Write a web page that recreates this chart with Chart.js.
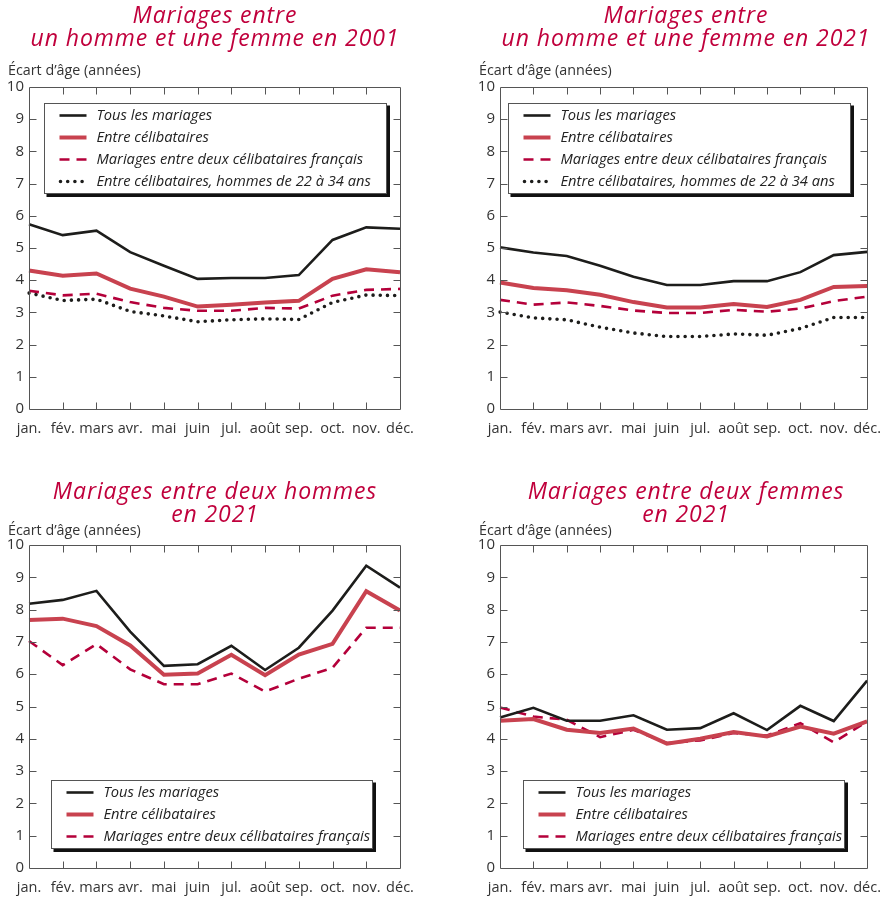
<!DOCTYPE html>
<html lang="fr">
<head>
<meta charset="utf-8">
<title>Écart d'âge entre époux selon le mois du mariage</title>
<script src="https://cdn.jsdelivr.net/npm/chart.js@4.4.1/dist/chart.umd.min.js"></script>
<style>
  body { margin: 0; background: #fff; font-family: "Open Sans", sans-serif; }
  #page { position: relative; width: 892px; height: 897px; overflow: hidden; }
  .panel { position: absolute; width: 446px; }
  .panel canvas { position: absolute; left: 0; top: 0; }
  .title {
    position: absolute; color: #c0003c; font-style: italic; font-size: 23px;
    letter-spacing: 0.9px; line-height: 23px; text-align: center; width: 420px; white-space: nowrap;
  }
  .ylabel { position: absolute; font-size: 14.3px; color: #333; white-space: nowrap; }
</style>
</head>
<body>
<div id="page">
  <div class="panel" style="left:0;top:0;height:448px">
    <canvas id="c2001" width="446" height="448"></canvas>
    <div class="title" style="left:5px;top:3px">Mariages entre<br>un homme et une femme en 2001</div>
    <div class="ylabel" style="left:8px;top:60px">Écart d’âge (années)</div>
  </div>
  <div class="panel" style="left:446px;top:0;height:448px">
    <canvas id="c2021" width="446" height="448"></canvas>
    <div class="title" style="left:30px;top:3px">Mariages entre<br>un homme et une femme en 2021</div>
    <div class="ylabel" style="left:33px;top:60px">Écart d’âge (années)</div>
  </div>
  <div class="panel" style="left:0;top:448px;height:449px">
    <canvas id="cHommes" width="446" height="449"></canvas>
    <div class="title" style="left:5px;top:31px">Mariages entre deux hommes<br>en 2021</div>
    <div class="ylabel" style="left:8px;top:72px">Écart d’âge (années)</div>
  </div>
  <div class="panel" style="left:446px;top:448px;height:449px">
    <canvas id="cFemmes" width="446" height="449"></canvas>
    <div class="title" style="left:30px;top:31px">Mariages entre deux femmes<br>en 2021</div>
    <div class="ylabel" style="left:33px;top:72px">Écart d’âge (années)</div>
  </div>
</div>

<script>
/* ===== DATA ===== */
const months = ["jan.", "fév.", "mars", "avr.", "mai", "juin", "jul.", "août", "sep.", "oct.", "nov.", "déc."];

const seriesLabels = [
  "Tous les mariages",
  "Entre célibataires",
  "Mariages entre deux célibataires français",
  "Entre célibataires, hommes de 22 à 34 ans"
];

// homme-femme 2001
const tous2001     = [5.74, 5.40, 5.54, 4.87, 4.45, 4.04, 4.07, 4.07, 4.16, 5.25, 5.64, 5.60];
const celib2001    = [4.30, 4.14, 4.21, 3.74, 3.49, 3.18, 3.24, 3.31, 3.36, 4.04, 4.34, 4.25];
const francais2001 = [3.67, 3.53, 3.58, 3.32, 3.14, 3.05, 3.05, 3.14, 3.12, 3.52, 3.70, 3.73];
const jeunes2001   = [3.60, 3.37, 3.41, 3.03, 2.89, 2.71, 2.77, 2.80, 2.78, 3.31, 3.54, 3.52];

// homme-femme 2021
const tous2021     = [5.02, 4.86, 4.75, 4.45, 4.11, 3.85, 3.85, 3.97, 3.97, 4.25, 4.78, 4.88];
const celib2021    = [3.93, 3.76, 3.69, 3.55, 3.32, 3.15, 3.15, 3.26, 3.17, 3.39, 3.79, 3.82];
const francais2021 = [3.39, 3.24, 3.31, 3.20, 3.06, 2.98, 2.98, 3.08, 3.02, 3.12, 3.35, 3.49];
const jeunes2021   = [3.01, 2.83, 2.77, 2.54, 2.36, 2.25, 2.25, 2.33, 2.29, 2.50, 2.84, 2.84];

// deux hommes 2021
const tousHommes     = [8.18, 8.30, 8.58, 7.32, 6.26, 6.31, 6.88, 6.13, 6.82, 7.97, 9.36, 8.68];
const celibHommes    = [7.68, 7.72, 7.49, 6.89, 5.98, 6.02, 6.60, 5.97, 6.61, 6.94, 8.57, 7.97];
const francaisHommes = [7.03, 6.28, 6.93, 6.15, 5.69, 5.69, 6.02, 5.46, 5.86, 6.20, 7.44, 7.44];

// deux femmes 2021
const tousFemmes     = [4.66, 4.96, 4.56, 4.56, 4.73, 4.28, 4.33, 4.79, 4.27, 5.02, 4.55, 5.80];
const celibFemmes    = [4.56, 4.61, 4.28, 4.18, 4.32, 3.85, 4.00, 4.21, 4.07, 4.38, 4.16, 4.54];
const francaisFemmes = [4.97, 4.69, 4.59, 4.05, 4.28, 3.87, 3.95, 4.18, 4.10, 4.48, 3.89, 4.54];

/* ===== STYLES ===== */
const seriesStyles = [
  { borderColor: "#1d1d1b", borderWidth: 2.6, borderDash: [] },
  { borderColor: "#c8424f", borderWidth: 4, borderDash: [] },
  { borderColor: "#b4003a", borderWidth: 2.6, borderDash: [10, 7] },
  { borderColor: "#1d1d1b", borderWidth: 3.6, borderDash: [0, 7.2], borderCapStyle: "round" }
];

function makeDatasets(seriesList) {
  return seriesList.map((values, i) => Object.assign({
    label: seriesLabels[i],
    data: values,
    pointRadius: 0,
    pointHoverRadius: 0,
    tension: 0,
    fill: false,
    borderCapStyle: "butt",
    borderJoinStyle: "miter"
  }, seriesStyles[i]));
}

/* ===== FRAME WITH INWARD TICKS ===== */
const framePlugin = {
  id: "frame",
  afterDatasetsDraw(chart) {
    const { ctx, chartArea: a, scales } = chart;
    const tick = 7;
    ctx.save();
    ctx.strokeStyle = "#555";
    ctx.lineWidth = 1;
    ctx.setLineDash([]);
    ctx.beginPath();
    const l = Math.round(a.left) + 0.5, r = Math.round(a.right) + 0.5;
    const t = Math.round(a.top) + 0.5, b = Math.round(a.bottom) + 0.5;
    ctx.rect(l, t, r - l, b - t);
    const nx = scales.x.ticks.length;
    for (let i = 1; i < nx - 1; i++) {
      const x = Math.round(scales.x.getPixelForTick(i)) + 0.5;
      ctx.moveTo(x, b); ctx.lineTo(x, b - tick);
      ctx.moveTo(x, t); ctx.lineTo(x, t + tick);
    }
    scales.y.ticks.forEach(tk => {
      if (tk.value <= scales.y.min || tk.value >= scales.y.max) return;
      const y = Math.round(scales.y.getPixelForValue(tk.value)) + 0.5;
      ctx.moveTo(l, y); ctx.lineTo(l + tick, y);
      ctx.moveTo(r, y); ctx.lineTo(r - tick, y);
    });
    ctx.stroke();
    ctx.restore();
  }
};

/* ===== LEGEND BOX ===== */
const legendBoxPlugin = {
  id: "legendBox",
  afterDraw(chart, args, opts) {
    const { ctx, chartArea: a } = chart;
    const sets = chart.data.datasets;
    const rowH = 22, pad = 12;
    const x = Math.round(a.left + opts.x) + 0.5;
    const y = Math.round(a.top + opts.y) + 0.5;
    const w = opts.width;
    const h = pad * 2 + (sets.length - 1) * rowH;
    ctx.save();
    // shadow
    ctx.fillStyle = "#111";
    ctx.fillRect(x + 2, y + 2, w + 1.5, h + 1.5);
    ctx.fillStyle = "#fff";
    ctx.fillRect(x, y, w, h);
    ctx.strokeStyle = "#555";
    ctx.lineWidth = 1;
    ctx.strokeRect(x, y, w, h);

    ctx.font = "italic 14.7px 'Open Sans'";
    ctx.textBaseline = "middle";
    sets.forEach((ds, i) => {
      const ry = y + pad + i * rowH;
      ctx.beginPath();
      ctx.strokeStyle = ds.borderColor;
      ctx.lineWidth = ds.borderWidth;
      ctx.setLineDash(ds.borderDash || []);
      ctx.lineCap = ds.borderCapStyle || "butt";
      const x0 = ds.borderCapStyle === "round" ? x + 16 : x + 15;
      ctx.moveTo(x0, ry);
      ctx.lineTo(x + 42, ry);
      ctx.stroke();
      ctx.setLineDash([]);
      ctx.fillStyle = "#222";
      ctx.fillText(ds.label, x + 52, ry);
    });
    ctx.restore();
  }
};

/* ===== CHART FACTORY ===== */
function makeChart(id, seriesList, area, legendPos) {
  new Chart(document.getElementById(id), {
    type: "line",
    data: { labels: months, datasets: makeDatasets(seriesList) },
    options: {
      responsive: false,
      animation: false,
      devicePixelRatio: 1,
      layout: { padding: { top: area.top, right: area.right, left: 0, bottom: 0 } },
      plugins: {
        legend: { display: false },
        tooltip: { enabled: false },
        legendBox: legendPos
      },
      scales: {
        x: {
          grid: { display: false, drawTicks: false },
          border: { display: false },
          ticks: { color: "#333", font: { family: "Open Sans", size: 14.5 }, padding: 11, maxRotation: 0, autoSkip: false },
          afterFit(scale) { scale.height = area.bottom; }
        },
        y: {
          min: 0, max: 10,
          grid: { display: false, drawTicks: false },
          border: { display: false },
          ticks: { stepSize: 1, color: "#333", font: { family: "Open Sans", size: 15 }, padding: 5 },
          afterFit(scale) { scale.width = area.left; }
        }
      }
    },
    plugins: [framePlugin, legendBoxPlugin]
  });
}

makeChart("c2001", [tous2001, celib2001, francais2001, jeunes2001],
  { left: 29, right: 46, top: 87, bottom: 39 }, { x: 15, y: 16, width: 342 });
makeChart("c2021", [tous2021, celib2021, francais2021, jeunes2021],
  { left: 54, right: 21, top: 87, bottom: 39 }, { x: 8, y: 16, width: 342 });
makeChart("cHommes", [tousHommes, celibHommes, francaisHommes],
  { left: 29, right: 46, top: 97, bottom: 29 }, { x: 22, y: 235, width: 321 });
makeChart("cFemmes", [tousFemmes, celibFemmes, francaisFemmes],
  { left: 54, right: 21, top: 97, bottom: 29 }, { x: 23, y: 235, width: 321 });
</script>
</body>
</html>
